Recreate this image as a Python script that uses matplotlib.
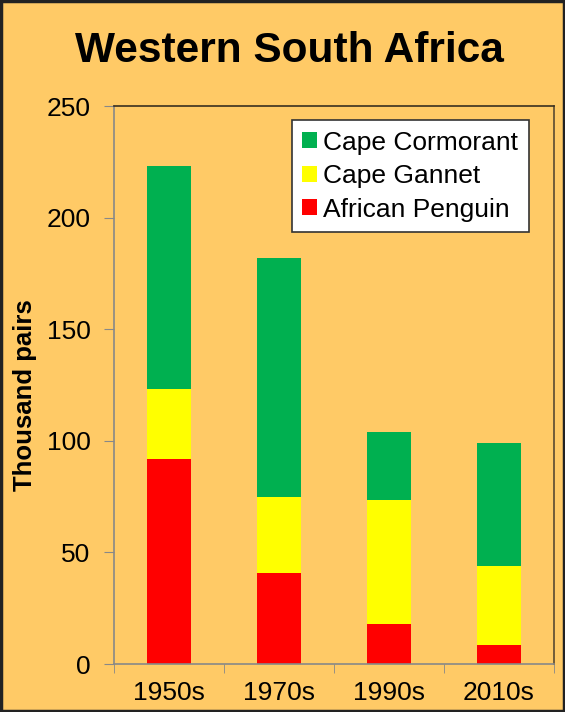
import matplotlib
matplotlib.use("Agg")
import matplotlib.pyplot as plt
from matplotlib.patches import Rectangle
import numpy as np

decades = ["1950s", "1970s", "1990s", "2010s"]
penguin = [92, 41, 18, 8.5]
gannet = [31, 34, 55.5, 35.5]
cormorant = [100, 107, 30.5, 55]

plt.rcParams['font.family'] = ['Liberation Sans', 'DejaVu Sans']
bg = "#FFCA66"

fig = plt.figure(figsize=(5.65, 7.12), dpi=100, facecolor=bg)
ax = fig.add_axes([0.2018, 0.0674, 0.7787, 0.7837])
ax.set_facecolor(bg)

x = np.arange(len(decades))
w = 0.4
p = np.array(penguin)
g = np.array(gannet)
c = np.array(cormorant)
ax.bar(x, p, w, color="#FF0000", label="African Penguin")
ax.bar(x, g, w, bottom=p, color="#FFFF00", label="Cape Gannet")
ax.bar(x, c, w, bottom=p + g, color="#00B050", label="Cape Cormorant")

ax.set_xlim(-0.5, 3.5)
ax.set_ylim(0, 250)
ax.set_yticks([0, 50, 100, 150, 200, 250])
ax.set_xticks(x)
ax.set_xticklabels(decades)
ax.set_xticks(np.arange(-0.5, 4, 1), minor=True)
ax.tick_params(axis="x", which="major", length=0, pad=12, labelsize=19)
ax.tick_params(axis="x", which="minor", length=6.5, color="#888888")
ax.tick_params(axis="y", length=7, color="#888888", labelsize=19, pad=10)

ax.spines["left"].set_color("#888888")
ax.spines["bottom"].set_color("#888888")
ax.spines["top"].set_color("#3a3020")
ax.spines["right"].set_color("#5a4a30")
for s in ax.spines.values():
    s.set_linewidth(1.2)

fig.text(25 / 565, 0.4445, "Thousand pairs", rotation=90, ha="center", va="center",
         fontsize=18.5, fontweight="bold")
fig.text(0.512, 0.928, "Western South Africa", ha="center", va="center",
         fontsize=30.5, fontweight="bold")

h, l = ax.get_legend_handles_labels()
leg = ax.legend(h[::-1], l[::-1], loc="upper right", bbox_to_anchor=(0.943, 0.975),
                fontsize=19, frameon=True, fancybox=False, handlelength=0.55,
                handleheight=0.55, handletextpad=0.25, borderpad=0.4,
                labelspacing=0.36, borderaxespad=0)
leg.get_frame().set_edgecolor("#333333")
leg.get_frame().set_linewidth(1.2)
leg.get_frame().set_alpha(1)

fig.patches.append(Rectangle((0.002, 0.002), 0.996, 0.996, transform=fig.transFigure,
                             fill=False, edgecolor="#222222", linewidth=2.5))

fig.savefig("out.png", dpi=100, facecolor=bg)
